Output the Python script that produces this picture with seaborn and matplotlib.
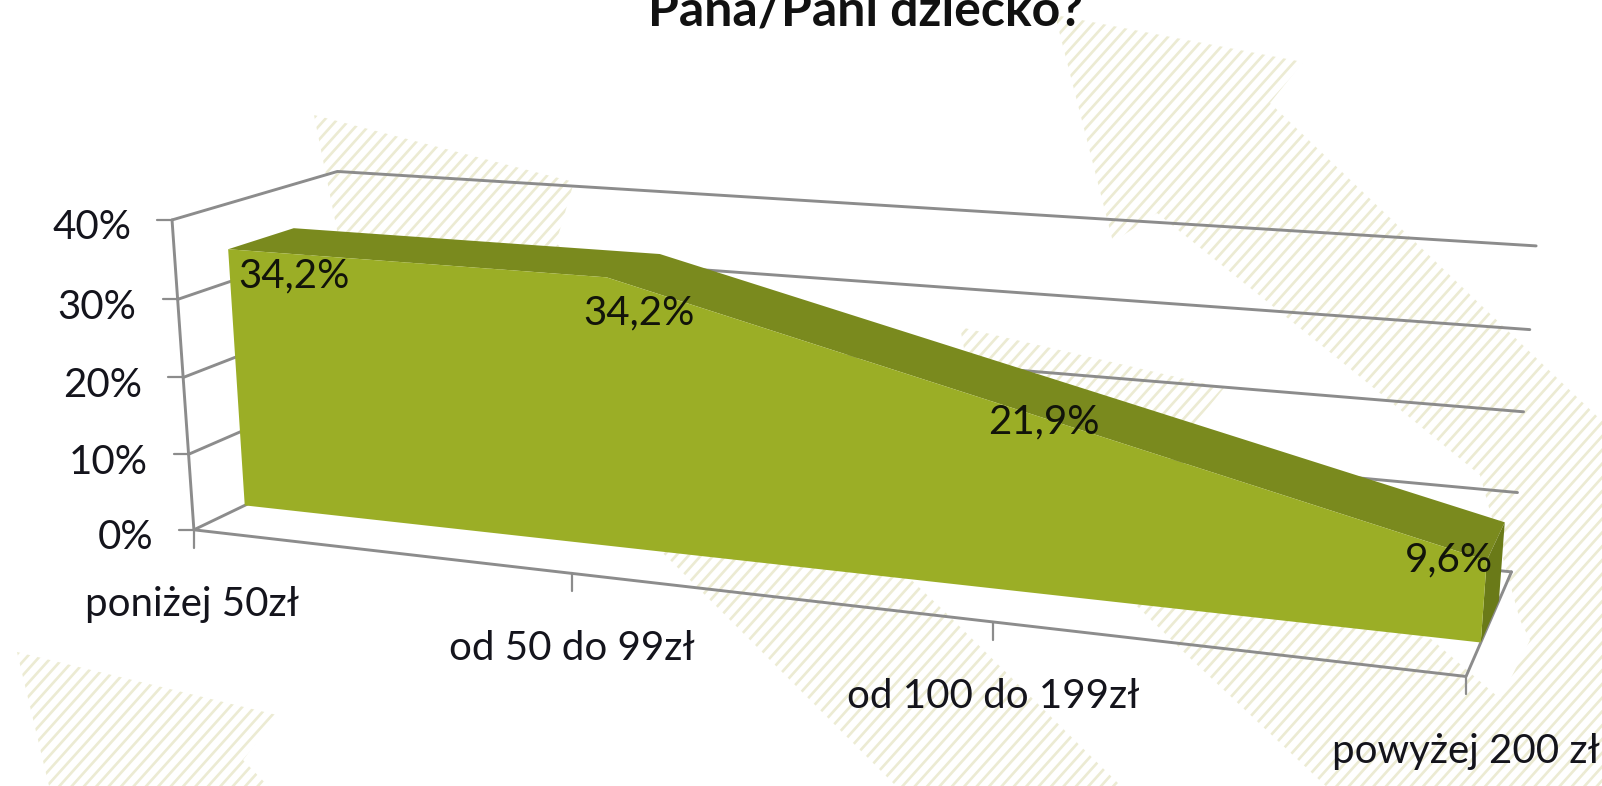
import numpy as np
import pandas as pd
import matplotlib
matplotlib.use("Agg")
import matplotlib.pyplot as plt
from matplotlib.patches import Polygon
import seaborn as sns

# ---- data ----
categories = ["poniżej 50zł", "od 50 do 99zł", "od 100 do 199zł", "powyżej 200 zł"]
values = [34.2, 34.2, 21.9, 9.6]
value_labels = ["34,2%", "34,2%", "21,9%", "9,6%"]
y_ticks = [0, 10, 20, 30, 40]
y_tick_labels = ["0%", "10%", "20%", "30%", "40%"]
title_text = "Pana/Pani dziecko?"

W, H = 1602, 786
S = 1602 / 1568
FS = 29

sns.set_theme(style="white")
plt.rcParams["font.family"] = ["Lato", "DejaVu Sans"]

# ---- perspective camera of the pseudo-3D chart: (category, value, depth) -> pixel ----
calib = [
    ((0, 0, 0), (190, 518)), ((1, 0, 0), (558, 565)), ((2, 0, 0), (972, 610)), ((3, 0, 0), (1435, 660)),
    ((0, 10, 0), (185, 443)), ((0, 20, 0), (180, 369)), ((0, 30, 0), (174, 293)), ((0, 40, 0), (168, 215)),
    ((0, 40, 1), (330, 168)), ((3, 40, 1), (1503, 241)), ((3, 30, 1), (1497, 323)),
    ((3, 20, 1), (1492, 403)), ((3, 10, 1), (1487, 483)), ((3, 0, 1), (1478, 558)),
]
A = []
b = []
for (c, v, d), (u, w) in calib:
    u, w = u * S, w * S
    A.append([c, v, d, 1, 0, 0, 0, 0, -u * c, -u * v, -u * d])
    A.append([0, 0, 0, 0, c, v, d, 1, -w * c, -w * v, -w * d])
    b += [u, w]
A = np.array(A, float)
sol = np.linalg.lstsq(A, np.array(b, float), rcond=None)[0]
Pm = np.array([[sol[0], sol[1], sol[2], sol[3]],
               [sol[4], sol[5], sol[6], sol[7]],
               [sol[8], sol[9], sol[10], 1.0]])


def project(c, v, d):
    p = Pm @ np.array([c, v, d, 1.0])
    return p[0] / p[2], p[1] / p[2]


fig = plt.figure(figsize=(W / 100, H / 100), dpi=100)
ax = fig.add_axes([0, 0, 1, 1])
ax.set_xlim(0, W)
ax.set_ylim(H, 0)
ax.axis("off")

# ---- slide background: hatched chevrons ----
chevrons = [
    [(1055, 15), (1303, 62), (1270, 103), (1602, 421), (1602, 790), (1500, 700), (1530, 640), (1520, 620),
     (1480, 475), (1326, 349), (1157, 213), (1113, 242)],
    [(960, 327), (1224, 388), (1190, 430), (1490, 690), (1602, 790), (1330, 790), (1192, 660), (1090, 560), (1000, 540)],
    [(314, 115), (574, 182), (556, 243), (943, 610), (1125, 790), (900, 790), (667, 557), (345, 270)],
    [(17, 652), (277, 715), (243, 760), (272, 790), (50, 790)],
]
slope = np.tan(np.radians(48))
hatch_color = "#ecebd3"
for poly in chevrons:
    patch = Polygon(poly, closed=True, fc="none", ec="none", transform=ax.transData)
    ax.add_patch(patch)
    for x0 in np.arange(-200, 2800, 12.4):
        ln, = ax.plot([x0, x0 - 1000], [0, 1000 * slope], color=hatch_color, lw=1.9, zorder=1,
                      solid_capstyle="butt")
        ln.set_clip_path(patch)
ax.set_xlim(0, W)
ax.set_ylim(H, 0)

# ---- walls, floor and gridlines ----
segs = []


def seg(name, pts):
    for p in pts:
        x, y = project(*p)
        segs.append({"seg": name, "px": x, "py": y})


n = len(categories) - 1
for v in y_ticks:
    seg(f"grid{v}", [(0, v, 0), (0, v, 1), (n, v, 1)])
seg("left", [(0, 0, 0), (0, y_ticks[-1], 0)])
seg("front", [(0, 0, 0), (n, 0, 0), (n, 0, 1)])
frame = pd.DataFrame(segs)
sns.lineplot(data=frame, x="px", y="py", units="seg", estimator=None, sort=False,
             color="#8c8c8c", lw=2.1, legend=False, ax=ax, zorder=2)
ax.set_xlabel("")
ax.set_ylabel("")

# ticks
tick_rows = []
for i in range(len(categories)):
    x, y = project(i, 0, 0)
    tick_rows += [{"seg": f"cx{i}", "px": x, "py": y}, {"seg": f"cx{i}", "px": x, "py": y + 18}]
    ax.text(x - 2 if i == 0 else x, y + 75, categories[i], ha="center", va="center", fontsize=FS,
            color="#14141c", zorder=6)
for v, lab in zip(y_ticks, y_tick_labels):
    x, y = project(0, v, 0)
    tick_rows += [{"seg": f"vy{v}", "px": x, "py": y}, {"seg": f"vy{v}", "px": x - 15, "py": y}]
    ax.text(x - 41, y + 8, lab, ha="right", va="center", fontsize=FS, color="#14141c", zorder=6)
sns.lineplot(data=pd.DataFrame(tick_rows), x="px", y="py", units="seg", estimator=None, sort=False,
             color="#8c8c8c", lw=1.6, legend=False, ax=ax, zorder=2)
ax.set_xlabel("")
ax.set_ylabel("")

# ---- the 3-D area ----
d0, d1 = 0.30, 0.70
idx = range(len(values))
front_top = [project(i, values[i], d0) for i in idx]
back_top = [project(i, values[i], d1) for i in idx]
front_base = [project(0, 0, d0), project(n, 0, d0)]
ax.fill(*zip(*(front_top + front_base[::-1])), color="#9bae26", lw=0, zorder=4)
ax.fill(*zip(*(front_top + back_top[::-1])), color="#7a8a1e", lw=0, zorder=3)
ax.fill(*zip(*[front_top[-1], back_top[-1], project(n, 0, d1), project(n, 0, d0)]),
        color="#6a7a18", lw=0, zorder=3)

# ---- value labels ----
label_offsets = [(66, 27), (32, 36), (17, 9), (-38, -1)]
for i, lab in enumerate(value_labels):
    x, y = front_top[i]
    ax.text(x + label_offsets[i][0], y + label_offsets[i][1], lab, ha="center", va="center", fontsize=FS,
            color="#12140a", zorder=6)

# ---- title, cut by the top of the picture ----
ax.text(866, 25, title_text, ha="center", va="baseline", fontsize=36, fontweight="bold", color="#111111", zorder=6,
        clip_on=False)

fig.savefig("out.png", dpi=100)
